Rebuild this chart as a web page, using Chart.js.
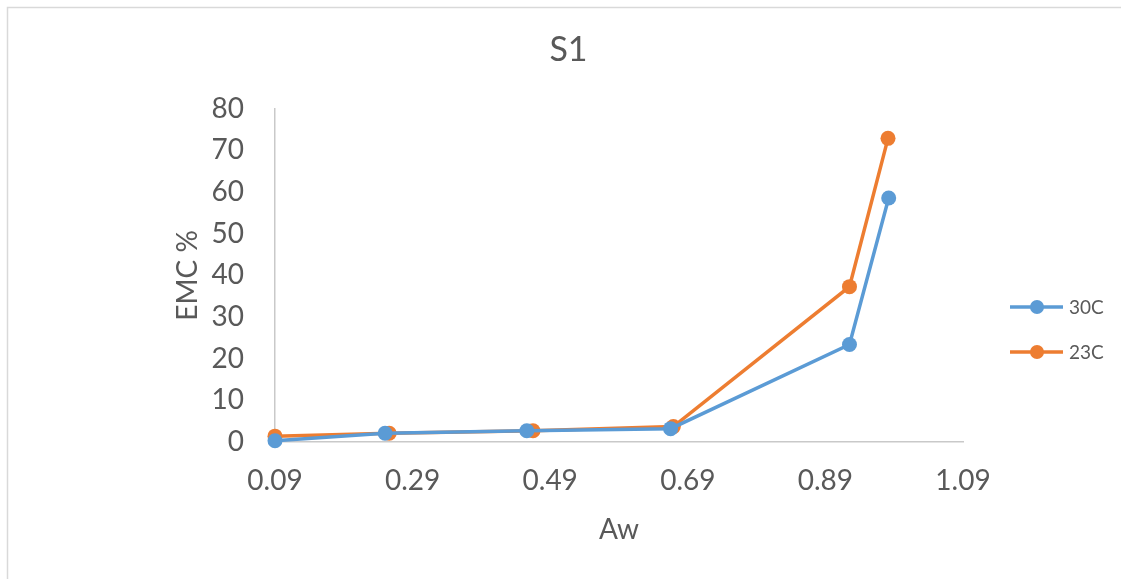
<!DOCTYPE html>
<html>
<head>
<meta charset="utf-8">
<script src="https://cdn.jsdelivr.net/npm/chart.js@4"></script>
<style>
  html, body { margin: 0; padding: 0; background: #fff; }
  #wrap { width: 1121px; height: 579px; }
</style>
</head>
<body>
<div id="wrap"><canvas id="chart_s1" width="1121" height="579"></canvas></div>
<script>
// data
const series_names = ["30C", "23C"]
const aw_30c = [0.09, 0.25, 0.456, 0.665, 0.925, 0.982]
const emc_30c = [0.3, 2.1, 2.7, 3.2, 23.4, 58.6]
const aw_23c = [0.09, 0.256, 0.465, 0.669, 0.925, 0.981]
const emc_23c = [1.4, 2.1, 2.7, 3.7, 37.3, 72.9]
const x_ticks = [0.09, 0.29, 0.49, 0.69, 0.89, 1.09]
const y_ticks = [0, 10, 20, 30, 40, 50, 60, 70, 80]

const blue = "#5B9BD5"
const orange = "#ED7D31"
const gris_texto = "#595959"
const gris_eje = "#c9c9c9"
const fuente = "Lato, 'Open Sans', sans-serif"

function to_points(xs, ys) {
    puntos = []
    for (i = 0; i < xs.length; i++) {
        puntos.push({ x: xs[i], y: ys[i] })
    }
    return puntos
}

function build_dataset(nombre, xs, ys, color) {
    return {
        label: nombre,
        data: to_points(xs, ys),
        showLine: true,
        clip: false,
        borderColor: color,
        backgroundColor: color,
        borderWidth: 3.5,
        pointRadius: 7.5,
        pointHoverRadius: 7.5,
        pointBorderWidth: 0,
        tension: 0
    }
}

// light frame of the excel chart, only top/left visible
const frame_plugin = {
    id: "frame",
    beforeDraw(chart) {
        const ctx = chart.ctx
        ctx.save()
        ctx.fillStyle = "#fff"
        ctx.fillRect(0, 0, chart.width, chart.height)
        ctx.strokeStyle = "#d9d9d9"
        ctx.lineWidth = 1.5
        ctx.strokeRect(7.5, 7.5, chart.width + 20, chart.height + 20)
        ctx.restore()
    }
}

// legend at the right, drawn by hand to sit where excel puts it
const legend_plugin = {
    id: "legend_right",
    afterDraw(chart) {
        const ctx = chart.ctx
        ctx.save()
        chart.data.datasets.forEach((ds, idx) => {
            const y = 307 + idx * 45
            ctx.strokeStyle = ds.borderColor
            ctx.lineWidth = 3.5
            ctx.beginPath()
            ctx.moveTo(1010, y)
            ctx.lineTo(1063, y)
            ctx.stroke()
            ctx.fillStyle = ds.borderColor
            ctx.beginPath()
            ctx.arc(1037, y, 7, 0, Math.PI * 2)
            ctx.fill()
            ctx.fillStyle = gris_texto
            ctx.font = "19px " + fuente
            ctx.textAlign = "left"
            ctx.textBaseline = "middle"
            ctx.fillText(ds.label, 1069, y + 1)
        })
        ctx.restore()
    }
}

function create_chart() {
    canvas = document.querySelector("#chart_s1")
    new Chart(canvas, {
        type: "scatter",
        data: {
            datasets: [
                build_dataset(series_names[0], aw_30c, emc_30c, blue),
                build_dataset(series_names[1], aw_23c, emc_23c, orange)
            ]
        },
        options: {
            responsive: false,
            animation: false,
            layout: { padding: { left: 16, right: 0, top: 0, bottom: 0 } },
            scales: {
                x: {
                    type: "linear",
                    min: x_ticks[0],
                    max: x_ticks[x_ticks.length - 1],
                    afterBuildTicks: (scale) => { scale.ticks = x_ticks.map(v => ({ value: v })) },
                    afterFit: (scale) => { scale.height = 137 },
                    ticks: {
                        color: gris_texto,
                        font: { family: fuente, size: 28 },
                        padding: 22,
                        maxRotation: 0,
                        callback: (v) => Number(v).toFixed(2)
                    },
                    grid: { display: false, drawTicks: false },
                    border: { display: true, color: gris_eje, width: 1.5 },
                    title: {
                        display: true,
                        text: "Aw",
                        color: gris_texto,
                        font: { family: fuente, size: 28 },
                        padding: { top: 0, bottom: 32 }
                    }
                },
                y: {
                    min: y_ticks[0],
                    max: y_ticks[y_ticks.length - 1],
                    afterBuildTicks: (scale) => { scale.ticks = y_ticks.map(v => ({ value: v })) },
                    afterFit: (scale) => { scale.width = 259 },
                    ticks: {
                        color: gris_texto,
                        font: { family: fuente, size: 28 },
                        padding: 31
                    },
                    grid: { display: false, drawTicks: false },
                    border: { display: true, color: gris_eje, width: 1.5 },
                    title: {
                        display: true,
                        text: "EMC %",
                        color: gris_texto,
                        font: { family: fuente, size: 28 },
                        padding: { top: 155, bottom: 0 }
                    }
                },
                // empty box on the right, keeps room for the legend
                espacio: {
                    type: "linear",
                    position: "right",
                    display: true,
                    afterFit: (scale) => { scale.width = 158 },
                    ticks: { display: false },
                    grid: { display: false, drawTicks: false },
                    border: { display: false }
                }
            },
            plugins: {
                legend: { display: false },
                tooltip: { enabled: false },
                title: {
                    display: true,
                    text: "S1",
                    color: gris_texto,
                    font: { family: fuente, size: 34, weight: "normal" },
                    padding: { top: 30, bottom: 38 }
                }
            }
        },
        plugins: [frame_plugin, legend_plugin]
    })
}

create_chart()
</script>
</body>
</html>
